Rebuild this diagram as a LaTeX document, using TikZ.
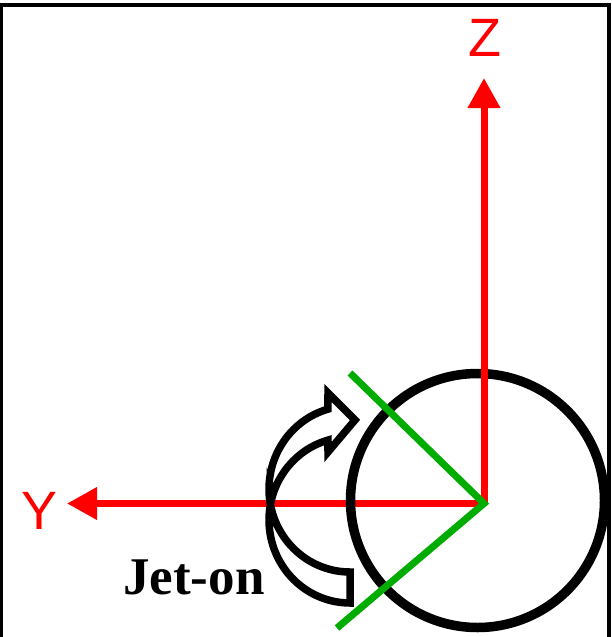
\documentclass[tikz,border=0pt]{standalone}
\usepackage{fontspec}
\setmainfont{Liberation Serif}
\setsansfont{Liberation Sans}
\usetikzlibrary{arrows.meta}
\definecolor{axisred}{RGB}{255,0,0}
\definecolor{linegreen}{RGB}{0,172,0}
\begin{document}
\begin{tikzpicture}[x=1pt,y=-1pt,
  axis/.style={draw=axisred,line width=7pt,-{Triangle[length=30pt,width=31pt]}},
  axislabel/.style={text=axisred,font=\sffamily\fontsize{54}{54}\selectfont,anchor=base,inner sep=0pt},
  greenline/.style={draw=linegreen,line width=7pt},
  ring/.style={draw=black,line width=9.5pt},
  blockarrow/.style={draw=black,fill=white,line width=7.5pt,line join=miter},
  jetlabel/.style={font=\bfseries\fontsize{53}{53}\selectfont,anchor=base west,inner sep=0pt}]
\useasboundingbox (0,0) rectangle (611,637);
% frame
\draw[line width=3.5pt] (1.5,700) -- (1.5,5) -- (609,5) -- (609,700);
% coordinates
\coordinate (O) at (484,503.5);
\coordinate (Ytip) at (67,503.5);
\coordinate (Ztip) at (484,78);
\coordinate (G1) at (350,373);
\coordinate (G2) at (337,628);
% Y axis (below circle)
\draw[axis] (O) -- (Ytip);
% circle
\node[ring,circle,minimum size=254pt,inner sep=0pt] (C) at (477.5,500.5) {};
% Z axis (above circle)
\draw[axis] (O) -- (Ztip);
% green lines
\draw[greenline] (G1) -- (O) -- (G2);
% labels
\node[axislabel] (Z) at (485,56) {Z};
\node[axislabel] (Y) at (39.5,529) {Y};
% curved block arrow
\draw[blockarrow]
  plot[domain=90:190.76,samples=40,variable=\t] ({350+81*cos(\t)},{520+83*sin(\t)})
  -- plot[domain=169.24:254.2,samples=40,variable=\t] ({350+81*cos(\t)},{489+83*sin(\t)})
  -- (328,393) -- (355,420) -- (328,452)
  -- plot[domain=254.2:190.76,samples=40,variable=\t] ({350+81*cos(\t)},{520+83*sin(\t)})
  -- plot[domain=169.24:90,samples=40,variable=\t] ({350+81*cos(\t)},{489+83*sin(\t)})
  -- cycle;
\node[jetlabel] (J) at (123,594) {Jet-on};
\end{tikzpicture}
\end{document}
